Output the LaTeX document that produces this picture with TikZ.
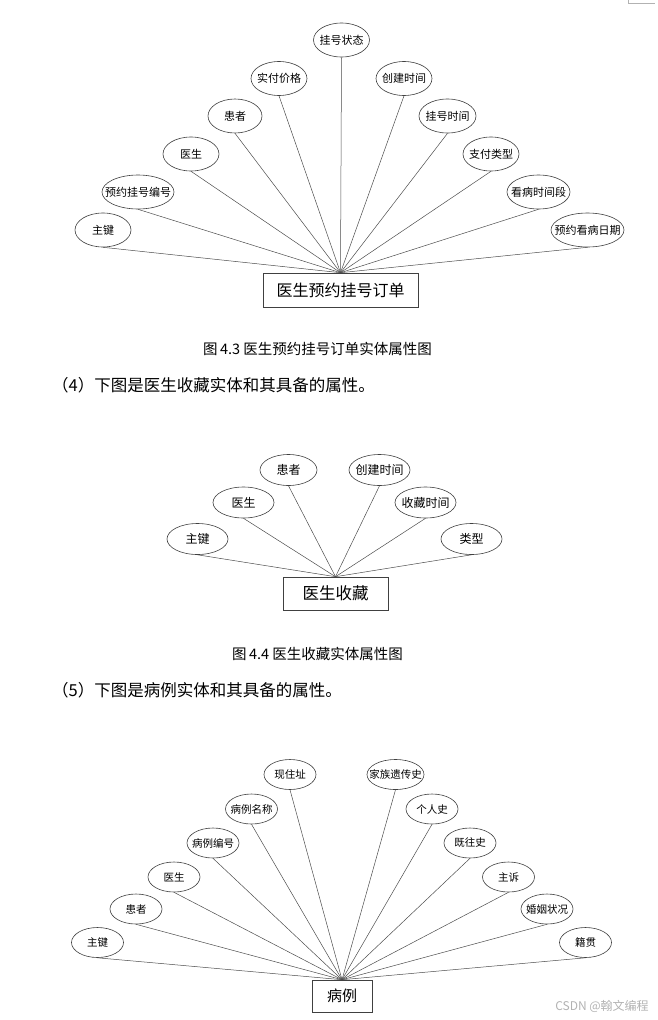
\documentclass[tikz,border=0pt]{standalone}
\usepackage{fontspec}
\setmainfont{Noto Sans CJK SC}
\usetikzlibrary{shapes.geometric}

% text of an attribute: zero width, so the ellipse keeps its own size
\newcommand{\attrlabel}[1]{\makebox[0pt]{#1}}
\newcommand{\fsz}[1]{\fontsize{#1}{#1}\selectfont}

\tikzset{
  attr/.style={ellipse, draw=black!75, line width=0.6pt, inner sep=0pt,
    minimum width=56pt, minimum height=34pt},
  entity/.style={rectangle, draw=black!75, line width=0.6pt, inner sep=0pt},
  link/.style={draw=black!70, line width=0.5pt},
  caption/.style={inner sep=0pt, font=\fsz{14.5}},
  para/.style={inner sep=0pt, anchor=west, font=\fsz{16.5}},
}

\begin{document}
\begin{tikzpicture}
\def\px{1pt}
\begin{scope}[x=\px, y=-\px]
  \useasboundingbox (0,0) rectangle (658,1020);
  % page corner mark
  \draw[black!30, line width=0.6pt] (628,0) -- (628,3.5) -- (655,3.5);

  % ---- Figure 4.3: order entity
  \begin{scope}[nodes={font=\fsz{11}}]
    \node[entity, minimum width=155pt, minimum height=34pt, font=\fsz{16}] (order) at (340.5,290) {医生预约挂号订单};
    \node[attr] (oKey) at (103,230) {\attrlabel{主键}};
    \node[attr, minimum width=72pt] (oNo) at (138,192) {\attrlabel{预约挂号编号}};
    \node[attr] (oDoc) at (191,154) {\attrlabel{医生}};
    \node[attr, minimum width=54pt] (oPat) at (235,116) {\attrlabel{患者}};
    \node[attr] (oPrice) at (279,78.5) {\attrlabel{实付价格}};
    \node[attr] (oState) at (341.5,40) {\attrlabel{挂号状态}};
    \node[attr] (oCreate) at (404,78.5) {\attrlabel{创建时间}};
    \node[attr, minimum width=57pt] (oTime) at (447.5,116) {\attrlabel{挂号时间}};
    \node[attr] (oPay) at (491,154) {\attrlabel{支付类型}};
    \node[attr, minimum width=63pt] (oSlot) at (538.5,192) {\attrlabel{看病时间段}};
    \node[attr, minimum width=73pt] (oDate) at (587.5,230) {\attrlabel{预约看病日期}};
  \end{scope}
  \draw[link] (oKey.south) -- (order.north);
  \draw[link] (oNo.south) -- (order.north);
  \draw[link] (oDoc.south) -- (order.north);
  \draw[link] (oPat.south) -- (order.north);
  \draw[link] (oPrice.south) -- (order.north);
  \draw[link] (oState.south) -- (order.north);
  \draw[link] (oCreate.south) -- (order.north);
  \draw[link] (oTime.south) -- (order.north);
  \draw[link] (oPay.south) -- (order.north);
  \draw[link] (oSlot.south) -- (order.north);
  \draw[link] (oDate.south) -- (order.north);
  \node[caption] (cap1) at (317.5,349) {图\,4.3\ 医生预约挂号订单实体属性图};
  \node[para] (par4) at (52,385) {（4）下图是医生收藏实体和其具备的属性。};

  % ---- Figure 4.4: favourite entity
  \begin{scope}[nodes={font=\fsz{12}}, attr/.append style={minimum width=61pt, minimum height=31pt}]
    \node[entity, minimum width=105pt, minimum height=33pt, font=\fsz{16.5}] (fav) at (335.5,593.5) {医生收藏};
    \node[attr] (fKey) at (197.5,539) {\attrlabel{主键}};
    \node[attr] (fDoc) at (243.5,502.5) {\attrlabel{医生}};
    \node[attr, minimum width=57pt] (fPat) at (288.5,470) {\attrlabel{患者}};
    \node[attr] (fCreate) at (379.5,470) {\attrlabel{创建时间}};
    \node[attr] (fTime) at (425.5,502.5) {\attrlabel{收藏时间}};
    \node[attr] (fType) at (471.5,539) {\attrlabel{类型}};
  \end{scope}
  \draw[link] (fKey.south) -- (fav.north);
  \draw[link] (fDoc.south) -- (fav.north);
  \draw[link] (fPat.south) -- (fav.north);
  \draw[link] (fCreate.south) -- (fav.north);
  \draw[link] (fTime.south) -- (fav.north);
  \draw[link] (fType.south) -- (fav.north);
  \node[caption] (cap2) at (317.5,654) {图\,4.4\ 医生收藏实体属性图};
  \node[para] (par5) at (52,690) {（5）下图是病例实体和其具备的属性。};

  % ---- Figure 4.5: case entity
  \begin{scope}[nodes={font=\fsz{10.5}}, attr/.append style={minimum width=52pt, minimum height=30pt}]
    \node[entity, minimum width=60pt, minimum height=32pt, font=\fsz{15}] (case) at (342,996) {病例};
    \node[attr] (cKey) at (97.5,942.5) {\attrlabel{主键}};
    \node[attr] (cPat) at (136,909) {\attrlabel{患者}};
    \node[attr] (cDoc) at (174,877) {\attrlabel{医生}};
    \node[attr] (cNo) at (213,843) {\attrlabel{病例编号}};
    \node[attr] (cName) at (251.5,809) {\attrlabel{病例名称}};
    \node[attr] (cAddr) at (290,774.5) {\attrlabel{现住址}};
    \node[attr, minimum width=57pt] (cFam) at (395.5,774.5) {\attrlabel{家族遗传史}};
    \node[attr] (cPers) at (432,809) {\attrlabel{个人史}};
    \node[attr] (cPast) at (470,843) {\attrlabel{既往史}};
    \node[attr] (cChief) at (508.5,877) {\attrlabel{主诉}};
    \node[attr] (cMar) at (547,909) {\attrlabel{婚姻状况}};
    \node[attr] (cHome) at (585.5,942.5) {\attrlabel{籍贯}};
  \end{scope}
  \draw[link] (cKey.south) -- (case.north);
  \draw[link] (cPat.south) -- (case.north);
  \draw[link] (cDoc.south) -- (case.north);
  \draw[link] (cNo.south) -- (case.north);
  \draw[link] (cName.south) -- (case.north);
  \draw[link] (cAddr.south) -- (case.north);
  \draw[link] (cFam.south) -- (case.north);
  \draw[link] (cPers.south) -- (case.north);
  \draw[link] (cPast.south) -- (case.north);
  \draw[link] (cChief.south) -- (case.north);
  \draw[link] (cMar.south) -- (case.north);
  \draw[link] (cHome.south) -- (case.north);

  % watermark
  \node[inner sep=0pt, text=black!30, font=\fsz{12}] (mark) at (602,1006) {CSDN @翰文编程};
\end{scope}
\end{tikzpicture}
\end{document}
